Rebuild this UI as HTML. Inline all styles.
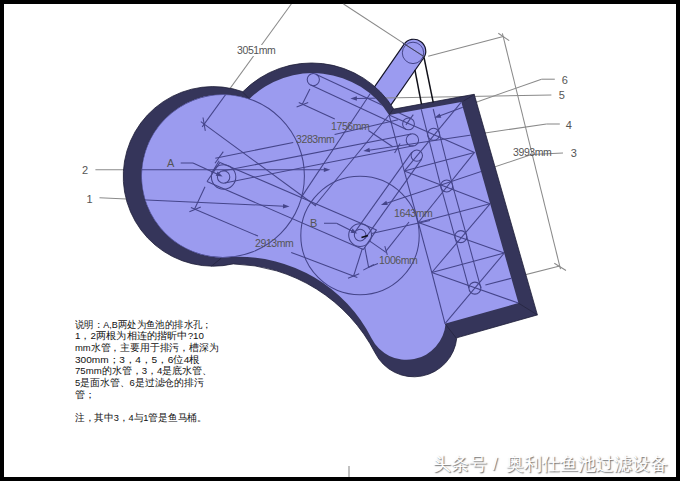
<!DOCTYPE html>
<html><head><meta charset="utf-8"><style>
html,body{margin:0;padding:0;}
body{width:680px;height:481px;position:relative;overflow:hidden;background:#000;font-family:"Liberation Sans",sans-serif;}
#page{position:absolute;left:4px;top:4px;width:672px;height:473px;background:#fff;}
.lbl{position:absolute;font-size:11px;color:#555;line-height:1;white-space:nowrap;}
.dim{position:absolute;font-size:10.5px;color:#555;line-height:1;white-space:nowrap;letter-spacing:-0.4px;}
.nt{position:absolute;left:75px;transform-origin:0 0;font-size:9.6px;line-height:1;color:#111;white-space:nowrap;}
.wm{position:absolute;top:456px;font-size:17.8px;line-height:1;color:#fff;white-space:nowrap;text-shadow:1px 1px 1.2px rgba(0,0,0,0.6);}
</style></head><body>
<div id="page"></div>
<svg width="680" height="481" viewBox="0 0 680 481" style="position:absolute;left:0;top:0">
<defs><clipPath id="cp"><path d="M249.4,98.9 A90.5,90.5 0 0 1 389.1,115.0 L461.3,102.1 L518.4,303.1 L445.6,323.5 A39.2,39.2 0 0 1 371.5,338.3 A149.0,149.0 0 0 0 233.9,256.8 A81.5,81.5 0 1 1 249.4,98.9 Z"/></clipPath></defs>
<path d="M423.6,58.0 A11.9,11.9 0 0 0 404.0,44.4 L368.6,95.3 L388.2,108.9 Z" fill="#9b9bf0" stroke="#15152a" stroke-width="1.2"/>
<circle cx="413" cy="52.9" r="10.7" fill="none" stroke="#45458a" stroke-width="1"/>
<g stroke="#8a8a8a" stroke-width="1.05" fill="none" stroke-opacity="1.0"><line x1="310.8" y1="85.0" x2="406.0" y2="129.3"/><line x1="315.8" y1="74.2" x2="411.0" y2="118.5"/><line x1="224.8" y1="182.9" x2="413.6" y2="145.8"/><line x1="222.4" y1="171.1" x2="411.2" y2="134.0"/><line x1="365.0" y1="238.6" x2="421.7" y2="159.1"/><line x1="355.2" y1="231.6" x2="411.9" y2="152.1"/><line x1="220.0" y1="162.4" x2="376.5" y2="229.9"/><line x1="376.5" y1="229.9" x2="363.3" y2="249.6"/><line x1="363.3" y1="249.6" x2="207.0" y2="181.5"/><line x1="207.0" y1="181.5" x2="220.0" y2="162.4"/><line x1="421.2" y1="109.0" x2="427.6" y2="134.3"/><line x1="427.6" y1="134.3" x2="440.7" y2="185.9"/><line x1="440.7" y1="185.9" x2="454.8" y2="236.6"/><line x1="454.8" y1="236.6" x2="468.9" y2="288.1"/><line x1="433.2" y1="109.0" x2="439.6" y2="134.3"/><line x1="439.6" y1="134.3" x2="452.7" y2="185.9"/><line x1="452.7" y1="185.9" x2="466.8" y2="236.6"/><line x1="466.8" y1="236.6" x2="480.9" y2="288.1"/><line x1="389.1" y1="115.0" x2="404.3" y2="171.1"/><line x1="404.3" y1="171.1" x2="418.3" y2="222.5"/><line x1="418.3" y1="222.5" x2="431.8" y2="272.5"/><line x1="431.8" y1="272.5" x2="445.0" y2="323.7"/><line x1="404.3" y1="171.1" x2="474.5" y2="152.4"/><line x1="418.3" y1="222.5" x2="490.0" y2="203.8"/><line x1="431.8" y1="272.5" x2="504.3" y2="253.0"/><line x1="389.1" y1="115.0" x2="474.5" y2="152.4"/><line x1="404.3" y1="171.1" x2="461.3" y2="102.1"/><line x1="404.3" y1="171.1" x2="490.0" y2="203.8"/><line x1="418.3" y1="222.5" x2="474.5" y2="152.4"/><line x1="418.3" y1="222.5" x2="504.3" y2="253.0"/><line x1="431.8" y1="272.5" x2="490.0" y2="203.8"/><line x1="431.8" y1="272.5" x2="518.4" y2="303.1"/><line x1="445.0" y1="323.7" x2="504.3" y2="253.0"/><line x1="389.1" y1="115.0" x2="315.0" y2="205.5"/><line x1="372.0" y1="91.0" x2="300.8" y2="198.1"/><line x1="95.4" y1="169.7" x2="325.0" y2="169.7"/><line x1="99.5" y1="197.8" x2="284.0" y2="206.2"/><line x1="563.0" y1="153.0" x2="531.5" y2="154.6"/><line x1="531.5" y1="154.6" x2="386.5" y2="203.2"/><line x1="559.8" y1="124.0" x2="546.5" y2="124.0"/><line x1="546.5" y1="124.0" x2="485.0" y2="133.0"/><line x1="485.0" y1="133.0" x2="369.0" y2="150.2"/><line x1="551.4" y1="95.1" x2="356.0" y2="98.4"/><line x1="554.8" y1="79.2" x2="541.5" y2="79.2"/><line x1="541.5" y1="79.2" x2="478.3" y2="101.4"/><line x1="478.3" y1="101.4" x2="440.0" y2="115.8"/><line x1="180.7" y1="162.9" x2="193.0" y2="162.9"/><line x1="193.0" y1="162.9" x2="217.0" y2="173.9"/><line x1="324.0" y1="223.2" x2="336.5" y2="223.2"/><line x1="336.5" y1="223.2" x2="352.0" y2="231.0"/><line x1="291.3" y1="4.0" x2="202.2" y2="126.9"/><line x1="203.0" y1="117.5" x2="205.3" y2="130.8"/><line x1="200.8" y1="121.6" x2="316.0" y2="206.0"/><line x1="343.5" y1="4.0" x2="424.0" y2="56.6"/><line x1="215.0" y1="163.2" x2="223.3" y2="151.6"/><line x1="215.3" y1="158.2" x2="293.2" y2="142.4"/><line x1="334.6" y1="134.6" x2="398.1" y2="119.7"/><line x1="219.1" y1="160.7" x2="211.6" y2="173.2"/><line x1="296.6" y1="106.9" x2="308.2" y2="102.4"/><line x1="302.4" y1="104.1" x2="309.9" y2="89.1"/><line x1="298.8" y1="102.4" x2="334.8" y2="119.1"/><line x1="368.4" y1="130.5" x2="392.7" y2="146.8"/><line x1="189.4" y1="211.8" x2="200.8" y2="207.0"/><line x1="194.6" y1="209.0" x2="205.0" y2="186.8"/><line x1="190.9" y1="207.4" x2="258.0" y2="236.1"/><line x1="291.2" y1="252.4" x2="357.3" y2="277.4"/><line x1="348.0" y1="278.2" x2="359.2" y2="273.8"/><line x1="363.3" y1="270.1" x2="373.9" y2="264.5"/><line x1="362.3" y1="248.6" x2="353.6" y2="276.0"/><line x1="364.8" y1="247.4" x2="368.6" y2="267.3"/><line x1="369.8" y1="241.1" x2="386.0" y2="252.4"/><line x1="384.8" y1="246.1" x2="387.3" y2="254.9"/><line x1="386.0" y1="251.1" x2="409.0" y2="222.0"/><line x1="368.6" y1="267.3" x2="378.0" y2="263.5"/><line x1="428.2" y1="56.3" x2="503.2" y2="36.6"/><line x1="498.3" y1="33.3" x2="509.2" y2="40.6"/><line x1="502.4" y1="33.4" x2="560.5" y2="269.2"/><line x1="554.3" y1="263.2" x2="566.0" y2="270.5"/><line x1="485.4" y1="284.9" x2="559.7" y2="266.0"/><line x1="405.9" y1="124.9" x2="413.3" y2="114.6"/><line x1="394.6" y1="153.1" x2="400.1" y2="143.5"/><line x1="371.6" y1="233.6" x2="430.0" y2="220.5"/><line x1="349.0" y1="466.0" x2="349.0" y2="477.0"/></g>
<path d="M242.9,91.7 A96.4,96.4 0 0 1 393.8,109.1 L474.2,94.3 L537.4,314.9 L456.8,337.8 A43.2,43.2 0 0 1 375.2,353.0 A164.3,164.3 0 0 0 233.2,263.9 A89.8,89.8 0 1 1 242.9,91.7 Z" fill="#35355a" stroke="#1e1e38" stroke-width="0.8"/>
<path d="M249.4,98.9 A90.5,90.5 0 0 1 389.1,115.0 L461.3,102.1 L518.4,303.1 L445.6,323.5 A39.2,39.2 0 0 1 371.5,338.3 A149.0,149.0 0 0 0 233.9,256.8 A81.5,81.5 0 1 1 249.4,98.9 Z" fill="#9b9bef"/>
<g stroke="#24243f" stroke-width="0.8">
<line x1="389.1" y1="115.0" x2="393.2" y2="109"/><line x1="463.5" y1="101" x2="474.5" y2="94.5"/>
<line x1="518.4" y1="303.1" x2="537.4" y2="314.9"/><line x1="445" y1="323.7" x2="456.2" y2="338"/>
<line x1="249.4" y1="98.9" x2="242.6" y2="92"/><line x1="221.2" y1="258.2" x2="211.5" y2="266.1"/>
</g>
<g clip-path="url(#cp)">
<g stroke="#45458a" stroke-width="1.05" fill="none" stroke-opacity="1.0"><line x1="310.8" y1="85.0" x2="406.0" y2="129.3"/><line x1="315.8" y1="74.2" x2="411.0" y2="118.5"/><line x1="224.8" y1="182.9" x2="413.6" y2="145.8"/><line x1="222.4" y1="171.1" x2="411.2" y2="134.0"/><line x1="365.0" y1="238.6" x2="421.7" y2="159.1"/><line x1="355.2" y1="231.6" x2="411.9" y2="152.1"/><line x1="220.0" y1="162.4" x2="376.5" y2="229.9"/><line x1="376.5" y1="229.9" x2="363.3" y2="249.6"/><line x1="363.3" y1="249.6" x2="207.0" y2="181.5"/><line x1="207.0" y1="181.5" x2="220.0" y2="162.4"/><line x1="421.2" y1="109.0" x2="427.6" y2="134.3"/><line x1="427.6" y1="134.3" x2="440.7" y2="185.9"/><line x1="440.7" y1="185.9" x2="454.8" y2="236.6"/><line x1="454.8" y1="236.6" x2="468.9" y2="288.1"/><line x1="433.2" y1="109.0" x2="439.6" y2="134.3"/><line x1="439.6" y1="134.3" x2="452.7" y2="185.9"/><line x1="452.7" y1="185.9" x2="466.8" y2="236.6"/><line x1="466.8" y1="236.6" x2="480.9" y2="288.1"/><line x1="389.1" y1="115.0" x2="404.3" y2="171.1"/><line x1="404.3" y1="171.1" x2="418.3" y2="222.5"/><line x1="418.3" y1="222.5" x2="431.8" y2="272.5"/><line x1="431.8" y1="272.5" x2="445.0" y2="323.7"/><line x1="404.3" y1="171.1" x2="474.5" y2="152.4"/><line x1="418.3" y1="222.5" x2="490.0" y2="203.8"/><line x1="431.8" y1="272.5" x2="504.3" y2="253.0"/><line x1="389.1" y1="115.0" x2="474.5" y2="152.4"/><line x1="404.3" y1="171.1" x2="461.3" y2="102.1"/><line x1="404.3" y1="171.1" x2="490.0" y2="203.8"/><line x1="418.3" y1="222.5" x2="474.5" y2="152.4"/><line x1="418.3" y1="222.5" x2="504.3" y2="253.0"/><line x1="431.8" y1="272.5" x2="490.0" y2="203.8"/><line x1="431.8" y1="272.5" x2="518.4" y2="303.1"/><line x1="445.0" y1="323.7" x2="504.3" y2="253.0"/><line x1="389.1" y1="115.0" x2="315.0" y2="205.5"/><line x1="372.0" y1="91.0" x2="300.8" y2="198.1"/><line x1="95.4" y1="169.7" x2="325.0" y2="169.7"/><line x1="99.5" y1="197.8" x2="284.0" y2="206.2"/><line x1="563.0" y1="153.0" x2="531.5" y2="154.6"/><line x1="531.5" y1="154.6" x2="386.5" y2="203.2"/><line x1="559.8" y1="124.0" x2="546.5" y2="124.0"/><line x1="546.5" y1="124.0" x2="485.0" y2="133.0"/><line x1="485.0" y1="133.0" x2="369.0" y2="150.2"/><line x1="551.4" y1="95.1" x2="356.0" y2="98.4"/><line x1="554.8" y1="79.2" x2="541.5" y2="79.2"/><line x1="541.5" y1="79.2" x2="478.3" y2="101.4"/><line x1="478.3" y1="101.4" x2="440.0" y2="115.8"/><line x1="180.7" y1="162.9" x2="193.0" y2="162.9"/><line x1="193.0" y1="162.9" x2="217.0" y2="173.9"/><line x1="324.0" y1="223.2" x2="336.5" y2="223.2"/><line x1="336.5" y1="223.2" x2="352.0" y2="231.0"/><line x1="291.3" y1="4.0" x2="202.2" y2="126.9"/><line x1="203.0" y1="117.5" x2="205.3" y2="130.8"/><line x1="200.8" y1="121.6" x2="316.0" y2="206.0"/><line x1="343.5" y1="4.0" x2="424.0" y2="56.6"/><line x1="215.0" y1="163.2" x2="223.3" y2="151.6"/><line x1="215.3" y1="158.2" x2="293.2" y2="142.4"/><line x1="334.6" y1="134.6" x2="398.1" y2="119.7"/><line x1="219.1" y1="160.7" x2="211.6" y2="173.2"/><line x1="296.6" y1="106.9" x2="308.2" y2="102.4"/><line x1="302.4" y1="104.1" x2="309.9" y2="89.1"/><line x1="298.8" y1="102.4" x2="334.8" y2="119.1"/><line x1="368.4" y1="130.5" x2="392.7" y2="146.8"/><line x1="189.4" y1="211.8" x2="200.8" y2="207.0"/><line x1="194.6" y1="209.0" x2="205.0" y2="186.8"/><line x1="190.9" y1="207.4" x2="258.0" y2="236.1"/><line x1="291.2" y1="252.4" x2="357.3" y2="277.4"/><line x1="348.0" y1="278.2" x2="359.2" y2="273.8"/><line x1="363.3" y1="270.1" x2="373.9" y2="264.5"/><line x1="362.3" y1="248.6" x2="353.6" y2="276.0"/><line x1="364.8" y1="247.4" x2="368.6" y2="267.3"/><line x1="369.8" y1="241.1" x2="386.0" y2="252.4"/><line x1="384.8" y1="246.1" x2="387.3" y2="254.9"/><line x1="386.0" y1="251.1" x2="409.0" y2="222.0"/><line x1="368.6" y1="267.3" x2="378.0" y2="263.5"/><line x1="428.2" y1="56.3" x2="503.2" y2="36.6"/><line x1="498.3" y1="33.3" x2="509.2" y2="40.6"/><line x1="502.4" y1="33.4" x2="560.5" y2="269.2"/><line x1="554.3" y1="263.2" x2="566.0" y2="270.5"/><line x1="485.4" y1="284.9" x2="559.7" y2="266.0"/><line x1="405.9" y1="124.9" x2="413.3" y2="114.6"/><line x1="394.6" y1="153.1" x2="400.1" y2="143.5"/><line x1="371.6" y1="233.6" x2="430.0" y2="220.5"/><line x1="349.0" y1="466.0" x2="349.0" y2="477.0"/></g>
<circle cx="223.6" cy="177.0" r="12.2" fill="none" stroke="#45458a" stroke-width="1.05"/><circle cx="223.6" cy="177.0" r="6.2" fill="none" stroke="#45458a" stroke-width="1.05"/><circle cx="360.1" cy="235.1" r="11.4" fill="none" stroke="#45458a" stroke-width="1.05"/><circle cx="360.1" cy="235.1" r="5.8" fill="none" stroke="#45458a" stroke-width="1.05"/><circle cx="313.3" cy="79.6" r="6.1" fill="none" stroke="#45458a" stroke-width="1.05"/><circle cx="408.5" cy="123.9" r="5.9" fill="none" stroke="#45458a" stroke-width="1.05"/><circle cx="412.4" cy="139.9" r="6.2" fill="none" stroke="#45458a" stroke-width="1.05"/><circle cx="416.8" cy="155.6" r="5.7" fill="none" stroke="#45458a" stroke-width="1.05"/><circle cx="433.6" cy="134.3" r="6.0" fill="none" stroke="#45458a" stroke-width="1.05"/><circle cx="446.7" cy="185.9" r="6.0" fill="none" stroke="#45458a" stroke-width="1.05"/><circle cx="460.8" cy="236.6" r="6.0" fill="none" stroke="#45458a" stroke-width="1.05"/><circle cx="474.9" cy="288.1" r="6.0" fill="none" stroke="#45458a" stroke-width="1.05"/><circle cx="222.9" cy="176.0" r="81.5" fill="none" stroke="#45458a" stroke-width="1.05"/><circle cx="360.0" cy="235.5" r="59.2" fill="none" stroke="#45458a" stroke-width="1.05"/>
<polygon points="330.3,169.7 323.8,172.0 323.8,167.4" fill="#45458a"/><polygon points="289.5,206.5 282.9,208.5 283.1,203.9" fill="#45458a"/><polygon points="380.9,205.0 386.3,200.8 387.8,205.1" fill="#45458a"/><polygon points="363.3,151.0 369.4,147.8 370.1,152.3" fill="#45458a"/><polygon points="350.4,98.6 356.9,96.2 356.9,100.8" fill="#45458a"/><polygon points="434.4,117.8 439.7,113.4 441.3,117.7" fill="#45458a"/><polygon points="222.6,176.4 215.7,175.8 217.6,171.6" fill="#45458a"/><polygon points="357.3,233.6 350.5,232.8 352.5,228.6" fill="#45458a"/>
</g>
<line x1="414.9" y1="69.9" x2="421.5" y2="104.2" stroke="#101018" stroke-width="1.5"/>
<line x1="402.5" y1="42.8" x2="424" y2="56.6" stroke="#3a3a6a" stroke-width="1"/>
<line x1="361.5" y1="237.5" x2="368" y2="235.5" stroke="#101018" stroke-width="1.6"/>
<line x1="424" y1="57.4" x2="433.2" y2="102.3" stroke="#101018" stroke-width="1.5"/>
</svg>
<div class="dim" style="left:237px;top:45px;background:#fff;">3051mm</div>
<div class="dim" style="left:296px;top:133.5px;">3283mm</div>
<div class="dim" style="left:331px;top:121px;">1756mm</div>
<div class="dim" style="left:255px;top:237.5px;">2913mm</div>
<div class="dim" style="left:379px;top:254.5px;">1006mm</div>
<div class="dim" style="left:394px;top:208px;">1643mm</div>
<div class="dim" style="left:513px;top:147px;">3993mm</div>
<div class="lbl" style="left:82px;top:165px;">2</div>
<div class="lbl" style="left:86.5px;top:193.5px;">1</div>
<div class="lbl" style="left:167px;top:158px;">A</div>
<div class="lbl" style="left:310px;top:218px;">B</div>
<div class="lbl" style="left:561.7px;top:75px;">6</div>
<div class="lbl" style="left:558.7px;top:90px;">5</div>
<div class="lbl" style="left:565.7px;top:120px;">4</div>
<div class="lbl" style="left:570.7px;top:148px;">3</div>
<div class="nt" style="top:319.6px;transform:scaleX(0.94)">说明：A,B两处为鱼池的排水孔；</div>
<div class="nt" style="top:331.3px;transform:scaleX(1.018)">1，2两根为相连的揩昕中?10</div>
<div class="nt" style="top:342.9px;transform:scaleX(0.983)">mm水管，主要用于排污，槽深为</div>
<div class="nt" style="top:354.6px;transform:scaleX(1.053)">300mm；3，4，5，6位4根</div>
<div class="nt" style="top:366.2px">75mm的水管，3，4是底水管、</div>
<div class="nt" style="top:377.9px;transform:scaleX(0.987)">5是面水管、6是过滤仓的排污</div>
<div class="nt" style="top:389.5px">管；</div>
<div class="nt" style="top:412.8px;transform:scaleX(0.967)">注，其中3，4与1管是鱼马桶。</div>
<div class="wm" style="left:433px">头条号</div>
<div class="wm" style="left:492.5px">/</div>
<div class="wm" style="left:506px">奥利仕鱼池过滤设备</div>
</body></html>
